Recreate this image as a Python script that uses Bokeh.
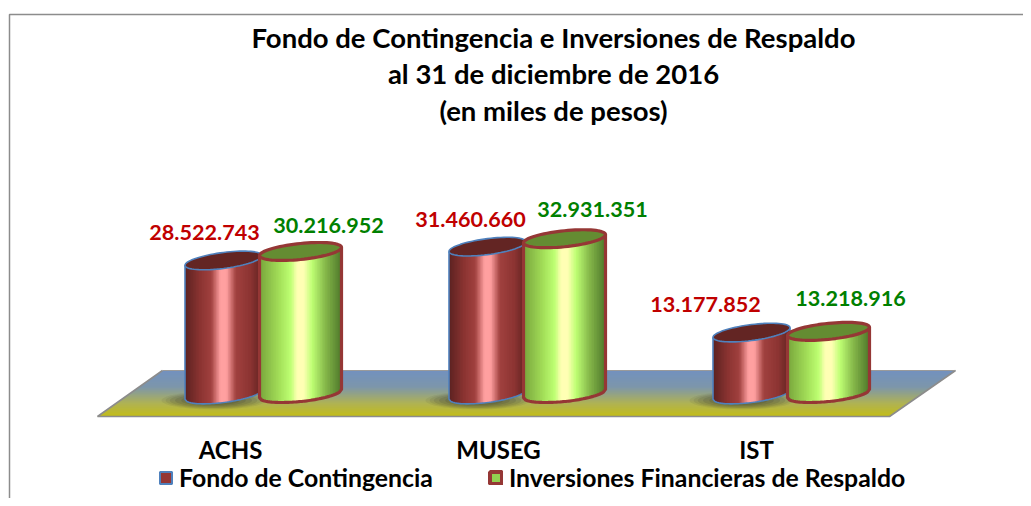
import math
from bokeh.plotting import figure
from bokeh.embed import file_html
from bokeh.resources import INLINE
from bokeh.core.properties import value
from bokeh.models import Legend, LegendItem, Range1d

# ---- data ----
categories = ["ACHS", "MUSEG", "IST"]
fondo = [28522743, 31460660, 13177852]
inversiones = [30216952, 32931351, 13218916]
fondo_labels = ["28.522.743", "31.460.660", "13.177.852"]
inversiones_labels = ["30.216.952", "32.931.351", "13.218.916"]
series_names = ["Fondo de Contingencia", "Inversiones Financieras de Respaldo"]
title_lines = ["Fondo de Contingencia e Inversiones de Respaldo",
               "al 31 de diciembre de 2016", "(en miles de pesos)"]

# ---- layout (pixels of the picture) ----
FONT = "Lato"
W, H = 1023, 498
PX_PER_UNIT = 4.7e-6
BASE_Y = 395
OFF_Y = 393 - BASE_Y
group_x = [261, 525, 789]
red_half, green_half = 38.5, 41
red_dx, green_dx = -38, 39
red_lbl_dx = [-19, -17, -46]
green_lbl_dx = [28, 28, 22]
red_lbl_dy = [-28, -27, -28]
green_lbl_dy = [-26, -29, -33]
cat_dx = [-31, -27, -33]

def Y(py):  # picture pixel -> value axis
    return (BASE_Y - py) / PX_PER_UNIT

p = figure(width=W, height=H, output_backend="svg", toolbar_location=None,
           x_range=Range1d(0, W), y_range=Range1d(Y(H), Y(0)),
           min_border=0, outline_line_color=None, background_fill_color="white",
           border_fill_color="white")
p.axis.visible = False
p.grid.visible = False

def lerp(a, b, t):
    return tuple(a[i] + (b[i] - a[i]) * t for i in range(3))

def hexc(c):
    return "#%02x%02x%02x" % tuple(int(round(v)) for v in c)

def ramp(stops, t):
    for (t0, c0), (t1, c1) in zip(stops, stops[1:]):
        if t <= t1:
            return lerp(c0, c1, (t - t0) / (t1 - t0) if t1 > t0 else 0)
    return stops[-1][1]

# frame
p.line([9, 9, W], [Y(H), Y(14), Y(14)], line_color="#8c8c8c", line_width=1.5)

# floor plane
TL, TR, BR, BL = (162, 370), (955, 370), (889, 416), (97, 416)
plane_stops = [(0, (115, 145, 190)), (0.35, (125, 150, 170)), (0.7, (175, 178, 85)), (1, (196, 189, 20))]
xs, ys, cols = [], [], []
N = 46
for i in range(N):
    a, b = i / N, (i + 1) / N
    xl0 = TL[0] + (BL[0] - TL[0]) * a; xr0 = TR[0] + (BR[0] - TR[0]) * a
    xl1 = TL[0] + (BL[0] - TL[0]) * b; xr1 = TR[0] + (BR[0] - TR[0]) * b
    y0 = TL[1] + (BL[1] - TL[1]) * a; y1 = TL[1] + (BL[1] - TL[1]) * b
    xs.append([xl0, xr0, xr1, xl1]); ys.append([Y(y0), Y(y0), Y(y1 + 0.6), Y(y1 + 0.6)])
    cols.append(hexc(ramp(plane_stops, a)))
p.patches(xs, ys, fill_color=cols, line_color=None)
p.line([TL[0], BL[0], BR[0], TR[0]], [Y(TL[1]), Y(BL[1]), Y(BR[1]), Y(TR[1])],
       line_color="#8c8c8c", line_width=1.6)
p.line([TL[0], TR[0]], [Y(TL[1]), Y(TR[1])], line_color="#9a9a9a", line_width=1)

def ellipse_xy(cx, cy, a, b, slope, n=72):
    out_x, out_y = [], []
    for k in range(n):
        th = 2 * math.pi * k / n
        x = a * math.cos(th)
        out_x.append(cx + x)
        out_y.append(cy + b * math.sin(th) + slope * x)
    return out_x, out_y

red_stops = [(0, (92, 34, 33)), (0.2, (140, 52, 50)), (0.34, (160, 65, 63)), (0.46, (255, 160, 160)),
             (0.54, (255, 160, 160)), (0.66, (160, 65, 63)), (0.85, (140, 52, 50)), (1, (95, 35, 34))]
green_stops = [(0, (120, 165, 60)), (0.25, (165, 225, 90)), (0.38, (190, 255, 115)), (0.46, (255, 255, 180)),
               (0.54, (255, 255, 180)), (0.64, (190, 255, 115)), (0.8, (135, 185, 75)), (1, (78, 120, 42))]

def shadow(cx, cy, a, b):
    for s, alpha in [(1.0, 0.07), (0.92, 0.09), (0.84, 0.11), (0.74, 0.13), (0.62, 0.14), (0.5, 0.15)]:
        ex, ey = ellipse_xy(cx, cy, a * s, b * s, 0)
        p.patch(ex, [Y(v) for v in ey], fill_color="#303030", fill_alpha=alpha, line_color=None)

def cylinder(cx, base_py, val, a, b, slope, stops, top_col, edge_col, edge_w, n=50):
    top_val = (BASE_Y - base_py) / PX_PER_UNIT + val
    top_py = BASE_Y - top_val * PX_PER_UNIT
    sx, sy, sc = [], [], []
    for i in range(n):
        u0, u1 = i / n, (i + 1) / n
        x0, x1 = -a + 2 * a * u0, -a + 2 * a * u1
        xo = min(x1 + 1.0, a)  # overlap the next strip, so that no seam shows
        low0 = base_py + b * math.sqrt(max(0, 1 - (x0 / a) ** 2)) + slope * x0
        low1 = base_py + b * math.sqrt(max(0, 1 - (xo / a) ** 2)) + slope * xo
        up0 = top_py + slope * x0
        up1 = top_py + slope * xo
        sx.append([cx + x0, cx + xo, cx + xo, cx + x0])
        sy.append([Y(up0), Y(up1), Y(low1), Y(low0)])
        sc.append(hexc(ramp(stops, (u0 + u1) / 2)))
    p.patches(sx, sy, fill_color=sc, line_color=None)
    # outline of the body
    ox, oy = [cx - a, cx - a], [Y(top_py - slope * a), Y(base_py - slope * a)]
    for k in range(0, 41):
        x = -a + 2 * a * k / 40
        ox.append(cx + x)
        oy.append(Y(base_py + b * math.sqrt(max(0, 1 - (x / a) ** 2)) + slope * x))
    ox.append(cx + a); oy.append(Y(top_py + slope * a))
    p.line(ox, oy, line_color=edge_col, line_width=edge_w)
    ex, ey = ellipse_xy(cx, top_py, a, b, slope)
    p.patch(ex, [Y(v) for v in ey], fill_color=top_col, line_color=edge_col, line_width=edge_w)
    return top_py

red_tops, green_tops = [], []
for i, g in enumerate(group_x):
    shadow(g + red_dx - 10, BASE_Y + 5, 52, 9)
for i, g in enumerate(group_x):
    red_tops.append(cylinder(g + red_dx, BASE_Y - 1, fondo[i], red_half, 8, -0.125, red_stops,
                             "#632523", "#4f81bd", 1.6))
    green_tops.append(cylinder(g + green_dx, BASE_Y + OFF_Y, inversiones[i], green_half, 8, -0.1, green_stops,
                               "#648c32", "#953735", 3.2))

# data labels
p.text([g + red_dx + d for g, d in zip(group_x, red_lbl_dx)],
       [Y(t + d) for t, d in zip(red_tops, red_lbl_dy)], text=fondo_labels,
       text_font=value(FONT), text_font_style="bold", text_font_size="21.6px",
       text_color="#c00000", text_align="center", text_baseline="middle")
p.text([g + green_dx + d for g, d in zip(group_x, green_lbl_dx)],
       [Y(t + d) for t, d in zip(green_tops, green_lbl_dy)], text=inversiones_labels,
       text_font=value(FONT), text_font_style="bold", text_font_size="21.6px",
       text_color="#008000", text_align="center", text_baseline="middle")

# category labels
p.text([g + d for g, d in zip(group_x, cat_dx)], [Y(449)] * 3, text=categories,
       text_font=value(FONT), text_font_style="bold", text_font_size="24px",
       text_color="black", text_align="center", text_baseline="middle")

# title
p.text([553] * 3, [Y(37), Y(73), Y(110)], text=title_lines,
       text_font=value(FONT), text_font_style="bold", text_font_size="27.5px",
       text_color="black", text_align="center", text_baseline="middle")

# legend: two swatches, whose renderers hold one point outside the visible range
r1 = p.quad(left=[-30], right=[-20], bottom=[0], top=[1], fill_color="#953735", line_color="#4f81bd", line_width=2)
r2 = p.quad(left=[-30], right=[-20], bottom=[0], top=[1], fill_color="#92d050", line_color="#953735", line_width=4)
leg = Legend(items=[LegendItem(label=series_names[0], renderers=[r1]),
                    LegendItem(label=series_names[1], renderers=[r2])],
             orientation="horizontal", location=(158, 6),
             background_fill_alpha=0, border_line_color=None, margin=0, padding=0,
             glyph_width=15, glyph_height=15, label_standoff=6, spacing=55,
             label_text_font=FONT, label_text_font_style="bold", label_text_font_size="24.8px",
             label_text_color="black")
p.add_layout(leg)

open("out.html", "w").write(file_html(p, INLINE))
